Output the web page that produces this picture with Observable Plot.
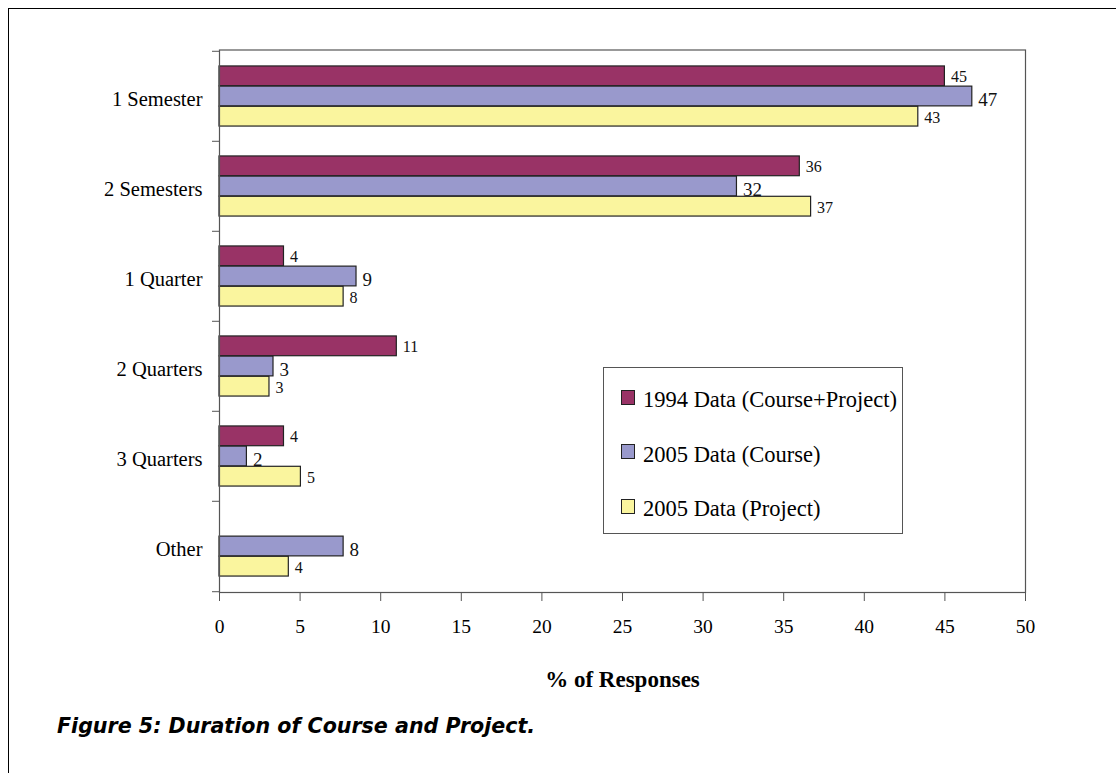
<!DOCTYPE html>
<html>
<head>
<meta charset="utf-8">
<script src="https://cdn.jsdelivr.net/npm/d3@7"></script>
<script src="https://cdn.jsdelivr.net/npm/@observablehq/plot@0.6"></script>
<style>
  html, body { margin: 0; padding: 0; background: #fff; width: 1116px; height: 773px; overflow: hidden; }
  #wrap { position: relative; width: 1116px; height: 773px; }
  #chart { position: absolute; left: 0; top: 0; }
  #legend { position: absolute; left: 603px; top: 367px; width: 298px; height: 165px; border: 1px solid #555; background: #fff; box-sizing: content-box; }
  .row { position: absolute; left: 17px; height: 14px; display: flex; align-items: center; }
  .sw { width: 12px; height: 13px; border: 1px solid #222; flex: none; }
  .lt { font-family: "Liberation Serif", "Times New Roman", serif; font-size: 22.5px; line-height: 14px; margin-left: 8px; white-space: nowrap; position: relative; top: 3px; color: #000; }
  #caption { position: absolute; left: 57px; top: 716px; font-family: "DejaVu Sans", sans-serif; font-weight: 700; font-style: italic; font-size: 20.6px; line-height: 20px; color: #000; white-space: nowrap; }
  #border { position: absolute; left: 8px; top: 8px; width: 1200px; height: 900px; border-left: 1.5px solid #000; border-top: 1.5px solid #000; pointer-events: none; }
</style>
</head>
<body>
<div id="wrap">
  <div id="chart"></div>
  <div id="legend"></div>
  <div id="caption">Figure 5: Duration of Course and Project.</div>
  <div id="border"></div>
</div>
<script>
// ---- data ----
const categories = ["1 Semester", "2 Semesters", "1 Quarter", "2 Quarters", "3 Quarters", "Other"];
const seriesNames = ["1994 Data (Course+Project)", "2005 Data (Course)", "2005 Data (Project)"];
const seriesColors = ["#993366", "#9999CC", "#FAF59E"];
const values1994 = [45.0, 36.0, 4.0, 11.0, 4.0, null];
const valuesCourse = [46.7, 32.1, 8.5, 3.35, 1.7, 7.7];
const valuesProject = [43.35, 36.7, 7.7, 3.1, 5.05, 4.3];
const labels1994 = ["45", "36", "4", "11", "4", null];
const labelsCourse = ["47", "32", "9", "3", "2", "8"];
const labelsProject = ["43", "37", "8", "3", "5", "4"];
const xTicks = [0, 5, 10, 15, 20, 25, 30, 35, 40, 45, 50];
const xLabel = "% of Responses";

// ---- layout ----
const W = 1116, H = 700;
const mT = 49.5, mB = H - 592, mL = 219, mR = 1116 - 1025;
const bw = (H - mB - mT) / categories.length;
const slot = bw * 0.2231;
const pad = (bw - 3 * slot) / 2;

const allValues = [values1994, valuesCourse, valuesProject];
const allLabels = [labels1994, labelsCourse, labelsProject];
const labelDy = [1, 3, 1];
const labelSize = [16, 19, 16];

const seriesRows = allValues.map((vals, i) =>
  categories.map((c, j) => ({category: c, series: seriesNames[i], value: vals[j], label: allLabels[i][j]}))
    .filter(d => d.value != null)
);

const marks = [];
seriesRows.forEach((rows, i) => {
  marks.push(Plot.barX(rows, {
    x1: 0, x2: "value", y: "category",
    fill: seriesColors[i], stroke: "#222", strokeWidth: 1.2,
    insetTop: pad + i * slot, insetBottom: pad + (2 - i) * slot
  }));
  marks.push(Plot.text(rows, {
    x: "value", y: "category", text: "label",
    dx: 6, dy: (i - 1) * slot + labelDy[i],
    textAnchor: "start", fontSize: labelSize[i], fill: "#111"
  }));
});

const plot = Plot.plot({
  width: W, height: H,
  marginTop: mT, marginBottom: mB, marginLeft: mL, marginRight: mR,
  x: {domain: [0, 50]},
  y: {domain: categories, padding: 0},
  style: {fontFamily: "'Liberation Serif', 'Times New Roman', serif", color: "#000", background: "transparent", overflow: "visible"},
  marks: [
    ...marks,
    Plot.frame({stroke: "#555", strokeWidth: 1.2}),
    Plot.axisY({tickSize: 0, tickPadding: 17, fontSize: 20.5, dy: 3, label: null, fill: "#000"}),
    Plot.axisY({ticks: categories, tickSize: 7, tickFormat: () => "", dy: -bw / 2, label: null, stroke: "#555"}),
    Plot.axisY({ticks: [categories[categories.length - 1]], tickSize: 7, tickFormat: () => "", dy: bw / 2, label: null, stroke: "#555"}),
    Plot.axisX({ticks: xTicks, tickSize: 9, tickPadding: 18, fontSize: 19.5, label: null, stroke: "#555", fill: "#000"}),
    Plot.text([xLabel], {text: d => d, frameAnchor: "bottom", dy: 94, fontSize: 23, fontWeight: "bold", fill: "#000"})
  ]
});
document.getElementById("chart").appendChild(plot);

// ---- legend ----
const legend = document.getElementById("legend");
seriesNames.forEach((name, i) => {
  const row = document.createElement("div");
  row.className = "row";
  row.style.top = (22 + i * 54.5) + "px";
  const sw = document.createElement("div");
  sw.className = "sw";
  sw.style.background = seriesColors[i];
  const t = document.createElement("span");
  t.className = "lt";
  t.textContent = name;
  row.appendChild(sw);
  row.appendChild(t);
  legend.appendChild(row);
});
</script>
</body>
</html>
